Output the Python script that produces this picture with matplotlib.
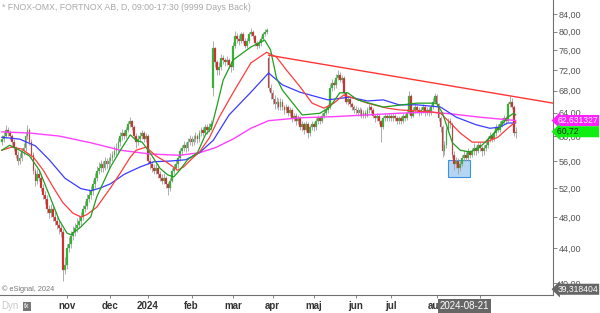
import numpy as np
import pandas as pd
import matplotlib
matplotlib.use("Agg")
import matplotlib.pyplot as plt
import matplotlib.transforms as mtransforms
from matplotlib.ticker import FixedLocator, FuncFormatter, NullLocator
from matplotlib.patches import Rectangle

plt.rcParams['font.family'] = ['Liberation Sans', 'DejaVu Sans']

# trading calendar (Nasdaq Stockholm holidays in range)
holidays = ['2023-12-25', '2023-12-26', '2024-01-01', '2024-03-29', '2024-04-01',
            '2024-05-01', '2024-05-09', '2024-06-06', '2024-06-21']
first_day = '2023-09-15'
first_open = 59.0

closes = [
    59.5, 60.0, 61.0, 60.5, 60.0, 59.0, 58.0, 57.0, 56.0, 56.5,
    57.5, 58.0, 60.0, 61.0, 59.0, 57.0, 54.5, 53.0, 54.0, 53.5,
    52.0, 51.0, 50.5, 49.0, 48.5, 49.0, 48.0, 47.5, 47.0, 46.5,
    46.0, 41.5, 42.0, 44.0, 44.5, 45.5, 46.0, 46.5, 47.0, 47.5,
    48.0, 49.0, 49.5, 50.5, 51.0, 51.5, 52.5, 53.5, 54.5, 55.0,
    55.5, 55.0, 56.0, 55.5, 56.0, 56.5, 57.0, 57.5, 58.0, 59.0,
    60.0, 60.5, 60.0, 61.0, 62.0, 62.5, 61.5, 60.0, 59.0, 59.5,
    60.0, 60.5, 59.5, 60.0, 56.0, 55.5, 55.0, 54.5, 55.0, 54.0,
    53.5, 53.0, 53.5, 52.5, 52.0, 53.0, 54.5, 55.0, 55.5, 56.5,
    57.5, 58.0, 58.5, 58.0, 59.0, 59.5, 59.0, 59.5, 60.0, 59.5,
    60.5, 61.0, 60.5, 61.5, 61.0, 61.5, 62.0, 76.5, 73.5, 72.0,
    72.5, 74.5, 74.0, 73.5, 74.0, 73.0, 72.5, 77.0, 79.0, 78.5,
    78.0, 79.5, 78.0, 77.0, 78.0, 79.5, 80.0, 79.0, 77.5, 77.0,
    77.5, 78.5, 79.5, 80.0, 80.5, 68.5, 67.5, 66.5, 65.5, 66.0,
    65.0, 66.0, 65.0, 64.5, 65.0, 64.0, 64.5, 63.0, 63.5, 62.5,
    63.0, 61.5, 62.0, 61.0, 62.0, 60.5, 61.5, 62.0, 61.5, 62.5,
    63.0, 62.5, 63.5, 64.0, 64.5, 65.0, 68.5, 69.5, 69.0, 70.5,
    71.0, 70.0, 70.5, 67.5, 66.0, 66.5, 65.5, 65.0, 64.5, 64.5,
    64.0, 64.5, 63.5, 64.0, 63.5, 64.5, 65.0, 64.5, 63.5, 63.0,
    63.5, 62.5, 61.5, 63.0, 63.5, 63.0, 63.5, 63.0, 63.5, 63.0,
    62.5, 63.0, 62.5, 63.5, 63.0, 64.0, 67.0, 63.5, 64.5, 65.0,
    64.5, 64.0, 64.5, 65.0, 64.0, 64.5, 64.0, 65.0, 66.0, 67.0,
    65.5, 63.0, 61.5, 57.5, 58.5, 61.0, 62.5, 62.0, 57.0, 55.5,
    56.0, 55.0, 55.5, 56.5, 57.0, 56.5, 57.5, 57.0, 57.5, 58.0,
    57.5, 58.5, 58.0, 57.5, 58.0, 58.5, 59.5, 60.0, 59.5, 60.5,
    61.5, 61.0, 62.0, 62.5, 63.0, 62.5, 65.5, 66.0, 65.0, 60.5,
    60.72]

highs = [
    60.2, 60.6, 61.8, 61.5, 61.0, 60.4, 59.5, 58.4, 57.5, 57.2,
    58.0, 58.8, 60.6, 61.9, 61.4, 59.5, 57.4, 55.0, 54.8, 54.6,
    54.0, 52.6, 51.5, 51.0, 49.6, 49.7, 49.5, 48.6, 48.0, 47.6,
    47.0, 46.4, 43.0, 44.6, 45.4, 46.2, 46.8, 47.2, 47.8, 48.2,
    48.6, 49.6, 50.2, 51.2, 51.8, 52.3, 53.2, 54.2, 55.2, 55.8,
    56.2, 56.0, 56.6, 56.4, 56.6, 57.2, 57.6, 58.4, 58.8, 59.6,
    60.6, 61.2, 61.0, 61.6, 62.6, 63.2, 62.8, 61.8, 60.5, 60.2,
    60.6, 61.0, 60.8, 60.5, 60.4, 56.6, 56.0, 55.5, 55.6, 55.5,
    54.5, 54.0, 54.2, 53.8, 52.8, 53.5, 55.0, 55.6, 56.2, 57.0,
    58.0, 58.6, 59.2, 59.0, 59.6, 60.2, 60.0, 60.2, 60.6, 60.4,
    61.0, 61.6, 61.5, 62.0, 62.0, 62.2, 62.8, 78.0, 76.8, 74.0,
    73.5, 75.2, 75.0, 74.5, 74.8, 74.5, 73.8, 77.8, 80.2, 79.8,
    79.2, 80.0, 80.0, 78.6, 78.6, 80.0, 80.8, 80.5, 79.4, 78.0,
    78.2, 79.0, 80.0, 80.6, 80.9, 75.0, 69.2, 68.2, 67.2, 66.8,
    66.6, 66.6, 66.4, 65.4, 65.6, 65.4, 65.0, 64.8, 64.0, 64.0,
    63.6, 63.4, 62.6, 62.4, 62.5, 62.4, 61.8, 62.6, 62.4, 63.0,
    63.6, 63.5, 64.0, 64.6, 65.0, 65.6, 69.2, 70.2, 70.0, 71.2,
    72.0, 71.5, 71.0, 70.8, 67.8, 67.0, 66.8, 66.0, 65.4, 65.2,
    65.0, 65.0, 64.8, 64.5, 64.4, 65.0, 65.6, 65.4, 64.8, 63.8,
    64.0, 63.8, 62.8, 63.4, 64.0, 63.8, 64.0, 63.8, 64.0, 63.8,
    63.4, 63.5, 63.4, 64.0, 63.8, 64.6, 68.0, 67.4, 65.0, 65.6,
    65.4, 65.0, 65.0, 65.6, 65.4, 65.0, 65.0, 65.6, 66.6, 67.6,
    67.4, 65.8, 63.4, 61.8, 59.2, 61.6, 63.0, 63.0, 62.4, 57.6,
    56.6, 56.4, 56.0, 57.0, 57.8, 57.4, 58.0, 57.8, 58.0, 58.8,
    58.4, 59.0, 59.0, 58.4, 58.6, 59.0, 60.0, 60.6, 60.4, 61.0,
    62.0, 62.0, 62.5, 63.0, 63.6, 63.5, 66.0, 67.0, 66.6, 65.4,
    61.6]

lows = [
    58.6, 59.0, 59.6, 60.0, 59.4, 58.6, 57.5, 56.5, 55.4, 55.6,
    56.0, 57.0, 57.6, 59.5, 58.5, 56.4, 54.0, 52.3, 52.6, 53.0,
    51.5, 50.4, 49.8, 48.5, 47.8, 48.0, 47.4, 47.0, 46.4, 45.8,
    45.4, 40.2, 41.0, 41.6, 43.6, 44.0, 45.0, 45.5, 46.0, 46.6,
    47.0, 47.6, 48.6, 49.0, 50.0, 50.4, 51.0, 52.0, 53.0, 54.0,
    54.4, 54.4, 54.6, 55.0, 55.0, 55.5, 56.0, 56.6, 57.0, 57.4,
    58.4, 59.4, 59.5, 59.6, 60.6, 61.5, 61.0, 59.5, 58.0, 58.5,
    59.0, 59.5, 59.0, 59.0, 55.6, 54.8, 54.4, 54.0, 54.0, 53.4,
    53.0, 52.5, 52.6, 52.0, 51.0, 51.6, 52.8, 54.0, 54.6, 55.0,
    56.0, 57.0, 57.5, 57.4, 57.6, 58.6, 58.4, 58.5, 59.0, 58.8,
    59.0, 60.0, 60.0, 60.2, 60.4, 60.6, 61.0, 67.0, 72.5, 71.0,
    71.0, 72.0, 73.2, 72.8, 73.0, 72.4, 71.6, 72.0, 76.5, 77.6,
    77.2, 77.5, 77.5, 76.4, 76.5, 77.6, 79.0, 78.4, 77.0, 76.2,
    76.5, 77.0, 78.0, 79.0, 79.5, 68.0, 66.4, 65.6, 64.6, 64.8,
    64.4, 64.4, 64.5, 63.8, 64.0, 63.4, 63.5, 62.4, 62.5, 61.8,
    62.0, 61.0, 60.8, 60.4, 60.6, 59.6, 60.0, 61.0, 60.8, 61.0,
    62.0, 62.0, 62.2, 63.0, 63.6, 64.0, 64.6, 68.0, 68.2, 68.6,
    70.0, 69.6, 69.5, 67.0, 65.6, 65.4, 65.0, 64.4, 64.0, 63.8,
    63.4, 63.5, 63.0, 63.0, 63.0, 63.2, 64.0, 64.0, 63.0, 62.4,
    62.6, 62.0, 59.0, 61.2, 62.6, 62.5, 62.6, 62.5, 62.6, 62.5,
    62.0, 62.0, 62.0, 62.2, 62.6, 62.8, 63.8, 63.0, 63.2, 64.0,
    64.0, 63.5, 63.6, 64.0, 63.5, 63.6, 63.4, 63.6, 64.6, 65.6,
    65.0, 62.6, 60.6, 56.6, 57.0, 58.0, 60.6, 61.4, 56.5, 54.6,
    55.0, 54.0, 54.5, 55.2, 56.0, 56.0, 56.0, 56.5, 56.6, 57.0,
    57.0, 57.2, 57.5, 56.8, 57.0, 57.6, 58.0, 59.0, 59.0, 59.2,
    60.0, 60.6, 60.6, 61.6, 62.0, 62.0, 62.4, 65.0, 64.6, 60.0,
    59.6]

gap_opens = {107: 68.5, 135: 74.5}

# moving averages (bar index, price)
ma10_idx = [0, 4, 9, 14, 19, 24, 29, 33, 35, 40, 45, 48, 55, 60, 65, 68, 71, 75, 80, 84, 87,
            90, 94, 99, 103, 106, 109, 112, 117, 126, 133, 136, 139, 142, 152, 161, 166, 171,
            175, 180, 193, 210, 220, 223, 228, 232, 237, 242, 247, 252, 256, 259, 260]
ma10_val = [57.7, 58.5, 57.7, 56.8, 54.6, 51.0, 47.6, 45.9, 45.7, 46.7, 48.0, 50.7, 55.1, 57.7,
            60.2, 59.3, 59.0, 57.3, 54.9, 53.9, 53.6, 54.6, 56.2, 57.3, 60.2, 61.3, 65.4, 70.0,
            74.0, 76.7, 78.2, 76.1, 70.4, 68.1, 63.6, 63.9, 65.0, 67.6, 67.6, 66.3, 65.0, 65.7,
            65.7, 63.9, 58.9, 57.7, 57.4, 58.2, 59.8, 61.5, 63.2, 63.9, 63.6]

ma20_idx = [0, 5, 10, 16, 21, 26, 31, 36, 40, 43, 48, 55, 60, 65, 68, 73, 78, 84, 89, 92, 97,
            100, 105, 110, 117, 126, 134, 139, 144, 151, 157, 163, 168, 173, 178, 185, 195,
            201, 218, 222, 227, 232, 238, 245, 251, 256, 260]
ma20_val = [57.7, 58.2, 57.9, 56.6, 54.6, 52.1, 49.9, 48.5, 48.0, 48.3, 49.3, 52.0, 54.2, 56.6,
            57.7, 58.2, 56.8, 55.7, 54.6, 55.1, 56.6, 57.4, 59.7, 63.2, 67.6, 73.4, 75.6, 74.6,
            72.0, 68.7, 65.7, 64.8, 65.7, 67.2, 66.6, 65.7, 64.8, 64.5, 64.1, 63.9, 62.2, 60.5,
            59.0, 59.0, 59.8, 61.3, 62.4]

ma50_idx = [0, 9, 17, 24, 32, 40, 45, 50, 55, 62, 70, 77, 85, 93, 100, 107, 115, 126, 135, 142,
            151, 165, 176, 185, 193, 201, 210, 222, 230, 240, 247, 252, 256, 260]
ma50_val = [59.8, 59.5, 58.4, 56.2, 53.4, 51.9, 51.6, 52.0, 52.6, 54.0, 55.1, 55.9, 56.0, 56.2,
            57.3, 59.3, 63.6, 67.7, 71.4, 69.1, 67.7, 66.3, 66.8, 66.1, 66.3, 65.4, 65.4, 65.0,
            63.2, 61.9, 61.3, 61.5, 62.2, 62.2]

ma200_idx = [0, 14, 29, 45, 60, 75, 90, 100, 108, 117, 126, 135, 151, 168, 185, 201, 217, 227,
             242, 260]
ma200_val = [60.7, 60.5, 60.0, 58.9, 57.7, 57.1, 56.9, 57.3, 58.1, 59.5, 61.3, 62.6, 63.1, 63.3,
             63.6, 63.9, 64.1, 63.8, 63.2, 62.631327]

trend_idx = [135, 279]
trend_val = [75.0, 65.7]
box_idx = [226, 237]
box_val = [53.6, 56.2]
cursor_date = '2024-08-21'
cursor_price = 39.318404

y_ticks = [40, 44, 48, 52, 56, 60, 64, 68, 72, 76, 80, 84]
month_labels = {11: 'nov', 12: 'dec', 1: '2024', 2: 'feb', 3: 'mar', 4: 'apr',
                5: 'maj', 6: 'jun', 7: 'jul', 8: 'aug', 9: ''}

n = len(closes)
dates = pd.bdate_range(first_day, periods=n, freq='C', holidays=holidays)
idx = np.arange(n)
c = np.array(closes)
o = np.array([first_open] + closes[:-1])
for k, v in gap_opens.items():
    o[k] = v
up = c >= o

fig = plt.figure(figsize=(6.0, 3.13), dpi=100)
ax = fig.add_axes([0, 18 / 313, 553 / 600, 295 / 313])
ax.set_yscale('log')
ax.set_ylim(38.70, 87.33)
ax.set_xlim(-0.91, 278.9)

# highlight box
ax.add_patch(Rectangle((box_idx[0], box_val[0]), box_idx[1] - box_idx[0], box_val[1] - box_val[0],
                       fc='#b4d6f4', ec='#3d8fe0', lw=0.8, zorder=1))

# candles
ax.vlines(idx, lows, highs, color='#a0a0a0', lw=0.6, zorder=2)
body_lo = np.minimum(o, c)
body_h = np.maximum(np.abs(c - o), 0.15)
ax.bar(idx[up], body_h[up], bottom=body_lo[up], width=0.9, color='#22bb22',
       edgecolor='#909090', lw=0.2, zorder=3)
ax.bar(idx[~up], body_h[~up], bottom=body_lo[~up], width=0.9, color='#dd2020',
       edgecolor='#909090', lw=0.2, zorder=3)

# moving averages
ax.plot(ma200_idx, ma200_val, color='#ff40ff', lw=1.0, zorder=4)
ax.plot(ma50_idx, ma50_val, color='#3b3bff', lw=0.9, zorder=4)
ax.plot(ma20_idx, ma20_val, color='#ff3c3c', lw=0.9, zorder=4)
ax.plot(ma10_idx, ma10_val, color='#1f9e1f', lw=0.9, zorder=4)

# trend line
ax.plot(trend_idx, trend_val, color='#ff3535', lw=1.0, zorder=4)

# axes styling
for s in ['left', 'top']:
    ax.spines[s].set_visible(False)
for s in ['right', 'bottom']:
    ax.spines[s].set_color('#707070')
    ax.spines[s].set_linewidth(0.8)

ax.yaxis.tick_right()
ax.yaxis.set_major_locator(FixedLocator(y_ticks))
ax.yaxis.set_minor_locator(NullLocator())
ax.yaxis.set_major_formatter(FuncFormatter(lambda v, p: f"{v:.2f}".replace('.', ',')))
ax.tick_params(axis='y', colors='#707070', labelcolor='#555555', labelsize=6.5,
               length=3, width=0.6, pad=1)

month_idx = [i for i in range(1, n) if dates[i].month != dates[i - 1].month
             and dates[i] >= pd.Timestamp('2023-11-01')]
ax.xaxis.set_major_locator(FixedLocator(month_idx))
ax.xaxis.set_minor_locator(NullLocator())
ax.set_xticklabels([month_labels[dates[i].month] for i in month_idx],
                   fontweight='bold', color='#333333')
ax.tick_params(axis='x', colors='#707070', labelcolor='#333333', labelsize=7,
               length=2, width=0.6, pad=2)

# right-hand value tags
tr = mtransforms.blended_transform_factory(ax.transAxes, ax.transData)
tag_style = dict(transform=tr, ha='left', va='center', fontsize=6.2, zorder=10, clip_on=False)
ax.text(1.008, ma200_val[-1], f"{ma200_val[-1]:.6f}".replace('.', ','), color='white',
        bbox=dict(boxstyle='larrow,pad=0.12', fc='#ff22ff', ec='none'), **tag_style)
ax.text(1.008, closes[-1], f"{closes[-1]:.2f}".replace('.', ',') + '        ', color='#003300',
        bbox=dict(boxstyle='larrow,pad=0.12', fc='#11ee11', ec='none'), **tag_style)
ax.text(1.008, cursor_price, f"{cursor_price:.6f}".replace('.', ','), color='white',
        bbox=dict(boxstyle='larrow,pad=0.12', fc='#666666', ec='none'), **tag_style)

# cursor date tag
cur_i = int(np.searchsorted(dates, pd.Timestamp(cursor_date)))
trx = mtransforms.blended_transform_factory(ax.transData, ax.transAxes)
ax.text(cur_i, -0.038, cursor_date, transform=trx, ha='center', va='center', fontsize=7,
        color='white', zorder=10, clip_on=False,
        bbox=dict(boxstyle='square,pad=0.2', fc='#666666', ec='none'))

fig.text(0.004, 0.99, '* FNOX-OMX, FORTNOX AB, D, 09:00-17:30 (9999 Days Back)',
         color='#a8a8a8', fontsize=6.3, va='top', ha='left')
fig.text(0.004, 0.075, '\u00a9 eSignal, 2024', color='#777777', fontsize=5.3,
         va='center', ha='left')
fig.text(0.002, 0.022, 'Dyn', color='#c8c8c8', fontsize=7, va='center', ha='left')
fig.text(0.040, 0.022, 'fx', color='white', fontsize=5, va='center', ha='left',
         bbox=dict(boxstyle='square,pad=0.15', fc='#777777', ec='none'))

fig.savefig('out.png', dpi=100)
